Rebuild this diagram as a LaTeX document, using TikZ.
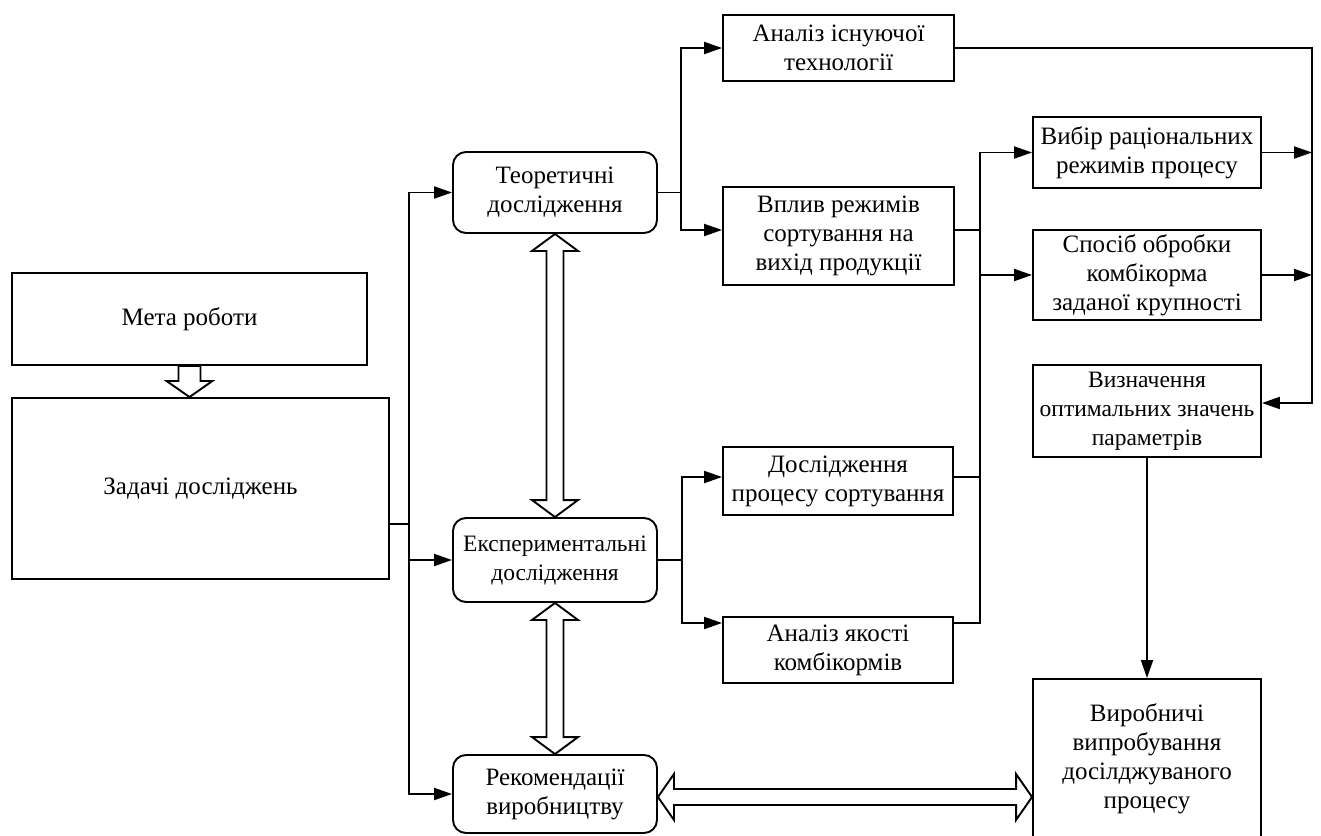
\documentclass[tikz,border=0pt]{standalone}
\usepackage{fontspec}
\setmainfont{Liberation Serif}
\usetikzlibrary{arrows.meta,calc}
\newcommand{\vfat}[2]{\draw[fat] (#1) -- ($(#1)+(23,17)$) -- ($(#1)+(8.5,17)$) -- ($(#2)+(8.5,-17)$) -- ($(#2)+(23,-17)$) -- (#2) -- ($(#2)+(-23,-17)$) -- ($(#2)+(-8.5,-17)$) -- ($(#1)+(-8.5,17)$) -- ($(#1)+(-23,17)$) -- cycle;}
\begin{document}
\begin{tikzpicture}[x=1pt,y=-1pt,
  box/.style={draw, line width=1.9pt, align=center, inner sep=0pt, font=\fontsize{25}{29}\selectfont},
  tight/.style={font=\fontsize{23.5}{29}\selectfont},
  rbox/.style={box, rounded corners=13pt},
  conn/.style={line width=1.9pt},
  arr/.style={conn, -{Triangle[length=18pt,width=12pt]}},
  fat/.style={draw, line width=1.9pt, fill=white, line join=miter}]
\useasboundingbox (0,0) rectangle (1321,835);
% nodes
\node[box, minimum width=355pt, minimum height=92pt] (meta) at (189.5,319) {Мета роботи};
\node[box, minimum width=377pt, minimum height=181pt] (zad) at (200.5,488.5) {Задачі досліджень};
\node[rbox, minimum width=204pt, minimum height=81pt] (teor) at (555,192.5) {Теоретичні\\дослідження};
\node[rbox, tight, minimum width=204pt, minimum height=84pt] (exp) at (555,560) {Експериментальні\\дослідження};
\node[rbox, minimum width=204pt, minimum height=78pt] (rek) at (555,794) {Рекомендації\\виробництву};
\node[box, minimum width=231pt, minimum height=66pt] (an1) at (838.5,48) {Аналіз існуючої\\технології};
\node[box, minimum width=231pt, minimum height=98pt] (vpl) at (838.5,236) {Вплив режимів\\сортування на\\вихід продукції};
\node[box, minimum width=230pt, minimum height=68pt] (dosl) at (838,481) {Дослідження\\процесу сортування};
\node[box, minimum width=230pt, minimum height=66pt] (anyak) at (838,650) {Аналіз якості\\комбікормів};
\node[box, minimum width=228pt, minimum height=71pt] (vyb) at (1147,152.5) {Вибір раціональних\\режимів процесу};
\node[box, minimum width=228pt, minimum height=90pt] (spos) at (1147,275) {Спосіб обробки\\комбікорма\\заданої крупності};
\node[box, tight, minimum width=228pt, minimum height=92pt] (vyzn) at (1147,411) {Визначення\\оптимальних значень\\параметрів};
\node[box, minimum width=228pt, minimum height=159pt] (vyrob) at (1147,758.5) {Виробничі\\випробування\\досілджуваного\\процесу};
% hollow arrows
\draw[fat] ($(meta.south)+(-11,0)$) -- ($(meta.south)+(-11,15)$) -- ($(meta.south)+(-23,15)$) -- (meta.south |- zad.north) -- ($(meta.south)+(23,15)$) -- ($(meta.south)+(11,15)$) -- ($(meta.south)+(11,0)$) -- cycle;
\vfat{teor.south}{exp.north}
\vfat{exp.south}{rek.north}
\coordinate (hl) at ($(rek.east)+(0,3)$);
\coordinate (hr) at (hl -| vyrob.west);
\draw[fat] (hl) -- ($(hl)+(16,-23)$) -- ($(hl)+(16,-8)$) -- ($(hr)+(-16,-8)$) -- ($(hr)+(-16,-23)$) -- (hr) -- ($(hr)+(-16,23)$) -- ($(hr)+(-16,8)$) -- ($(hl)+(16,8)$) -- ($(hl)+(16,23)$) -- cycle;
% anchor points
\coordinate (vplW) at ($(vpl.west)+(0,-6)$);
\coordinate (vplE) at ($(vpl.east)+(0,-6)$);
\coordinate (doslW) at ($(dosl.west)+(0,-4)$);
\coordinate (doslE) at ($(dosl.east)+(0,-4)$);
\coordinate (anyakW) at ($(anyak.west)+(0,-27)$);
\coordinate (anyakE) at ($(anyak.east)+(0,-27)$);
\coordinate (vyznA) at ($(vyzn.east)+(0,-8)$);
% left bus
\coordinate (busL) at (409,524);
\draw[conn] (zad.east |- busL) -- (busL);
\draw[arr] (busL) |- (teor.west);
\draw[arr] (busL) |- (exp.west);
\draw[arr] (busL) |- (rek.west);
% branch from theoretical
\coordinate (b1) at (681,192.5);
\draw[conn] (teor.east) -- (b1);
\draw[arr] (b1) |- (an1.west);
\draw[arr] (b1) |- (vplW);
% branch from experimental
\coordinate (b2) at (682,560);
\draw[conn] (exp.east) -- (b2);
\draw[arr] (b2) |- (doslW);
\draw[arr] (b2) |- (anyakW);
% right bus
\coordinate (rbus) at (980,0);
\draw[arr] (anyakE) -| (rbus |- vyb.west) -- (vyb.west);
\draw[arr] (rbus |- spos.west) -- (spos.west);
\draw[conn] (vplE) -- (rbus |- vplE);
\draw[conn] (doslE) -- (rbus |- doslE);
% far right bus
\coordinate (fr) at (1312,0);
\draw[arr] (an1.east) -| (fr |- vyznA) -- (vyznA);
\draw[arr] (vyb.east) -- (fr |- vyb.east);
\draw[arr] (spos.east) -- (fr |- spos.east);
\draw[arr] (vyzn.south) -- (vyrob.north);
\end{tikzpicture}
\end{document}
